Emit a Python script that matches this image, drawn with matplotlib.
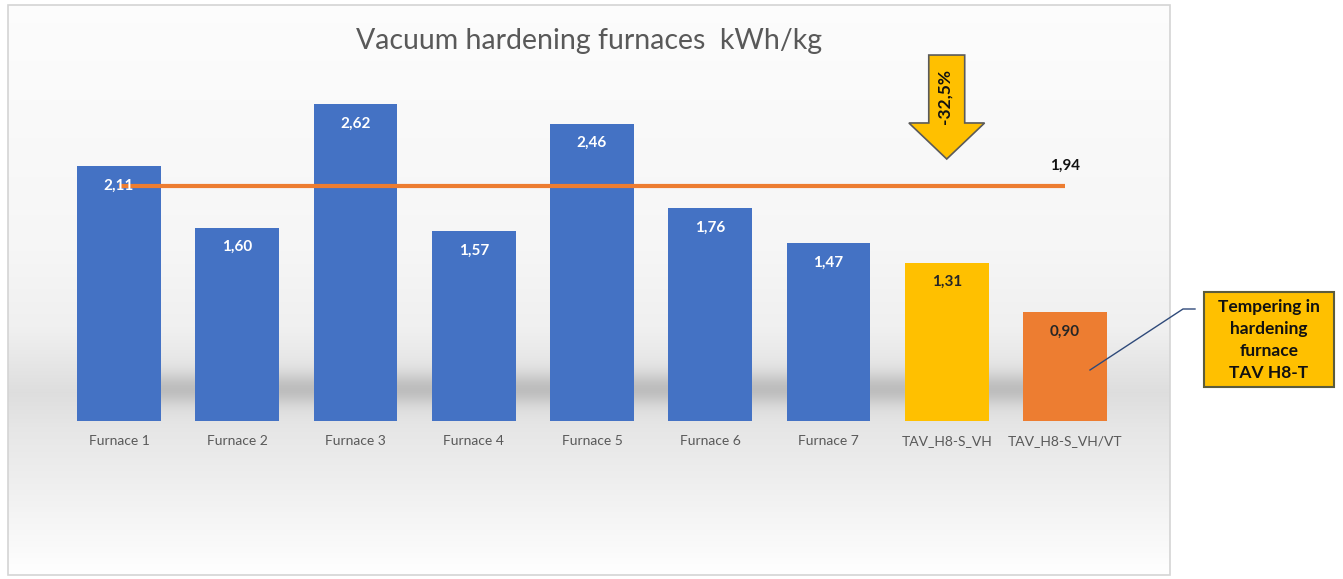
import numpy as np
import matplotlib
matplotlib.use('Agg')
import matplotlib.pyplot as plt
from matplotlib.patches import Polygon, Rectangle
from matplotlib.lines import Line2D

plt.rcParams['font.family'] = ['Lato', 'DejaVu Sans']

# data
furnaces = ['Furnace 1', 'Furnace 2', 'Furnace 3', 'Furnace 4', 'Furnace 5',
            'Furnace 6', 'Furnace 7', 'TAV_H8-S_VH', 'TAV_H8-S_VH/VT']
kwh_per_kg = [2.11, 1.60, 2.62, 1.57, 2.46, 1.76, 1.47, 1.31, 0.90]
average = 1.94
reduction = '-32,5%'
note_lines = ['Tempering in', 'hardening', 'furnace', 'TAV H8-T']

bar_colors = ['#4472C4'] * 7 + ['#FFC000', '#ED7D31']
label_colors = ['white'] * 7 + ['#262626', '#262626']

W, H = 1343, 579
fig = plt.figure(figsize=(W / 100, H / 100), dpi=100)


def fx(x):
    return x / W


def fy(y):
    return 1 - y / H


# chart frame with grey gradient + soft shadow band behind bars
box_l, box_t, box_r, box_b = 8, 5, 1170, 575
bg = fig.add_axes([fx(box_l), fy(box_b), (box_r - box_l) / W, (box_b - box_t) / H])
bg.set_axis_off()
ys = np.arange(box_t, box_b)
xs = np.arange(box_l, box_r)
grey = np.interp(ys, [5, 250, 330, 392, 430, 480, 575],
                 [0.99, 0.965, 0.94, 0.87, 0.905, 0.935, 1.0])
img = np.repeat(grey[:, None], len(xs), axis=1)
band = np.exp(-((ys - 388) / 16.0) ** 2)
mask = np.clip((xs - 85) / 30, 0, 1) * np.clip((1110 - xs) / 30, 0, 1)
img = img - 0.13 * band[:, None] * mask[None, :]
bg.imshow(np.dstack([img] * 3), extent=[0, 1, 0, 1], aspect='auto', interpolation='bilinear')
bg.add_patch(Rectangle((0, 0), 1, 1, transform=bg.transAxes, fill=False,
                       edgecolor='#d4d4d4', lw=1.2, clip_on=False))

# main axes: y=0 at px 421, 120.9 px per unit, bar spacing 118.25 px
ymax = 3.0
ax = fig.add_axes([fx(59.9), fy(421), (1124.1 - 59.9) / W, ymax * 120.9 / H])
ax.set_facecolor('none')
x = np.arange(len(furnaces))
ax.bar(x, kwh_per_kg, width=0.71, color=bar_colors, zorder=2)
ax.plot([x[0], x[-1]], [average, average], color='#ED7D31', lw=3, zorder=3,
        solid_capstyle='butt')

for i, v in enumerate(kwh_per_kg):
    ax.annotate(f'{v:.2f}'.replace('.', ','), (i, v), xytext=(0, -14),
                textcoords='offset points', ha='center', va='center',
                fontsize=11, fontweight='bold', color=label_colors[i], zorder=4)
ax.annotate(f'{average:.2f}'.replace('.', ','), (x[-1], average), xytext=(0, 15),
            textcoords='offset points', ha='center', va='center',
            fontsize=11, fontweight='bold', color='#111111')

ax.set_xlim(-0.5, len(furnaces) - 0.5)
ax.set_ylim(0, ymax)
ax.set_xticks(x)
ax.set_xticklabels(furnaces, fontsize=10, color='#595959')
ax.set_yticks([])
ax.tick_params(axis='x', length=0, pad=10)
for s in ax.spines.values():
    s.set_visible(False)

# down arrow above the yellow bar
cx = 7
head, shaft = 0.32, 0.152
top, neck, tip = 3.027, 2.465, 2.167
arrow = Polygon([(cx - shaft, top), (cx + shaft, top), (cx + shaft, neck), (cx + head, neck),
                 (cx, tip), (cx - head, neck), (cx - shaft, neck)],
                closed=True, facecolor='#FFC000', edgecolor='#5a5a5a', lw=1.2,
                clip_on=False, zorder=5)
ax.add_patch(arrow)
ax.text(cx - 0.02, 2.68, reduction, rotation=90, ha='center', va='center',
        fontsize=12.5, fontweight='bold', color='#111111', zorder=6)

# title
fig.text(fx(589), fy(49), 'Vacuum hardening furnaces  kWh/kg', ha='center', va='baseline',
         fontsize=20.5, color='#595959')

# callout box
fig.patches.append(Rectangle((fx(1204), fy(387)), (1334 - 1204) / W, (387 - 292) / H,
                             transform=fig.transFigure, facecolor='#FFC000',
                             edgecolor='#5c5c3c', lw=1.5))
fig.text(fx(1269), fy(340), '\n'.join(note_lines), ha='center', va='center',
         fontsize=12.5, fontweight='bold', color='#111111', linespacing=1.45)
fig.lines.append(Line2D([fx(1090), fx(1183), fx(1195)], [fy(370), fy(309), fy(309)],
                        transform=fig.transFigure, color='#2f4a7a', lw=1))

fig.savefig('out.png', dpi=100)
